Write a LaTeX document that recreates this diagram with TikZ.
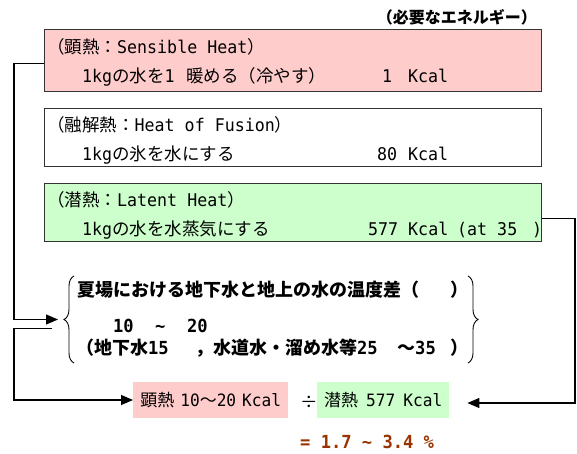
\documentclass[tikz,border=0pt]{standalone}
\usepackage{fontspec}
\setmainfont{Noto Sans CJK JP}
\newfontfamily\hwfont{DejaVu Sans Mono}[Scale=1.0,FakeStretch=0.95]
\newcommand\hw[1]{{\hwfont #1}}
\usetikzlibrary{arrows.meta,decorations.pathreplacing,calc}
\definecolor{pinkf}{HTML}{FFCCCC}
\definecolor{greenf}{HTML}{CCFFCC}
\definecolor{resbrown}{HTML}{993300}
\definecolor{edge}{HTML}{333333}
\begin{document}
\begin{tikzpicture}[x=1pt,y=-1pt,
  txt/.style={inner sep=0pt, anchor=base west, font=\fontsize{17.5}{21}\selectfont},
  btxt/.style={txt, font=\fontsize{18}{21}\selectfont\bfseries},
  panel/.style={draw=edge, line width=1pt, inner sep=0pt, anchor=north west, minimum width=497pt},
  resbox/.style={inner sep=0pt, minimum height=36pt, anchor=west},
  conn/.style={line width=1.2pt, -{Triangle[length=12pt,width=10pt]}},
  bracestyle/.style={line width=0.9pt, decorate, decoration={brace, amplitude=10pt}}]
\useasboundingbox (0,0) rectangle (577,454);

% heading
\node[txt, anchor=base east, font=\fontsize{16}{19}\selectfont\bfseries] (head) at (537,24) {（必要なエネルギー）};

% panels
\node[panel, fill=pinkf, minimum height=62pt] (sens) at (44,29) {};
\node[panel, fill=white, minimum height=58pt] (fus) at (44,108) {};
\node[panel, fill=greenf, minimum height=58pt] (lat) at (44,183) {};

% sensible heat
\node[txt] (s1) at (47,54) {（顕熱：\hw{Sensible Heat}）};
\node[txt] (s2) at (82,83) {\hw{1kg}の水を\hw{1}};
\node[txt] (s3) at (186,83) {暖める（冷やす）};
\node[txt] (s4) at (382,83) {\hw{1}};
\node[txt] (s5) at (408,83) {\hw{Kcal}};

% heat of fusion
\node[txt] (f1) at (47,132) {（融解熱：\hw{Heat of Fusion}）};
\node[txt] (f2) at (82,161) {\hw{1kg}の氷を水にする};
\node[txt] (f3) at (377,161) {\hw{80}};
\node[txt] (f4) at (408,161) {\hw{Kcal}};

% latent heat
\node[txt] (l1) at (47,207) {（潜熱：\hw{Latent Heat}）};
\node[txt] (l2) at (82,235) {\hw{1kg}の水を水蒸気にする};
\node[txt] (l3) at (368,235) {\hw{577 Kcal}};
\node[txt] (l3b) at (457,235) {\hw{(at 35}};
\node[txt] (l4) at (532,235) {\hw{)}};

% temperature difference group
\node[inner sep=0pt, minimum width=420pt, minimum height=87pt, anchor=west] (diff) at (58,319.5) {};
\draw[bracestyle] (74,363) -- (74,276);
\draw[bracestyle] (468,276) -- (468,363);
\node[btxt] (d1) at (77,296) {夏場における地下水と地上の水の温度差（};
\node[btxt] (d1b) at (450,296) {）};
\node[btxt] (d2a) at (113,332) {\hw{10}};
\node[btxt] (d2b) at (155,332) {\hw{\char"007E}};
\node[btxt] (d2c) at (187,332) {\hw{20}};
\node[btxt] (d3a) at (76,354) {（地下水\hw{15}};
\node[btxt] (d3b) at (195,354) {，水道水・溜め水等\hw{25}};
\node[btxt] (d3c) at (397,354) {～\hw{35}};
\node[btxt] (d3d) at (450,354) {）};

% result
\node[resbox, fill=pinkf, minimum width=155pt, font=\fontsize{17}{21}\selectfont] (sensres) at (133,400) {顕熱\hspace{6pt}\hw{10}～\hw{20}\hspace{6pt}\hw{Kcal}};
\node[txt] (divide) at (300,408) {÷};
\node[resbox, fill=greenf, minimum width=132pt, font=\fontsize{17}{21}\selectfont] (latres) at (317,400) {潜熱\hspace{8pt}\hw{577}\hspace{8pt}\hw{Kcal}};
\node[txt, font=\fontsize{18}{21}\selectfont\bfseries, text=resbrown] (ratio) at (300,448) {\hw{= 1.7 \char"007E{} 3.4 \%}};

% connectors
\draw[conn] ($(sens.west)+(0,3)$) -- ++(-30,0) |- (diff.west);
\draw[conn] ($(diff.west)+(-6,9)$) -- ++(-38,0) |- (sensres.west);
\draw[conn] ($(lat.east)+(0,6)$) -- ++(33,0) |- ($(latres.east)+(18,3)$);
\end{tikzpicture}
\end{document}
